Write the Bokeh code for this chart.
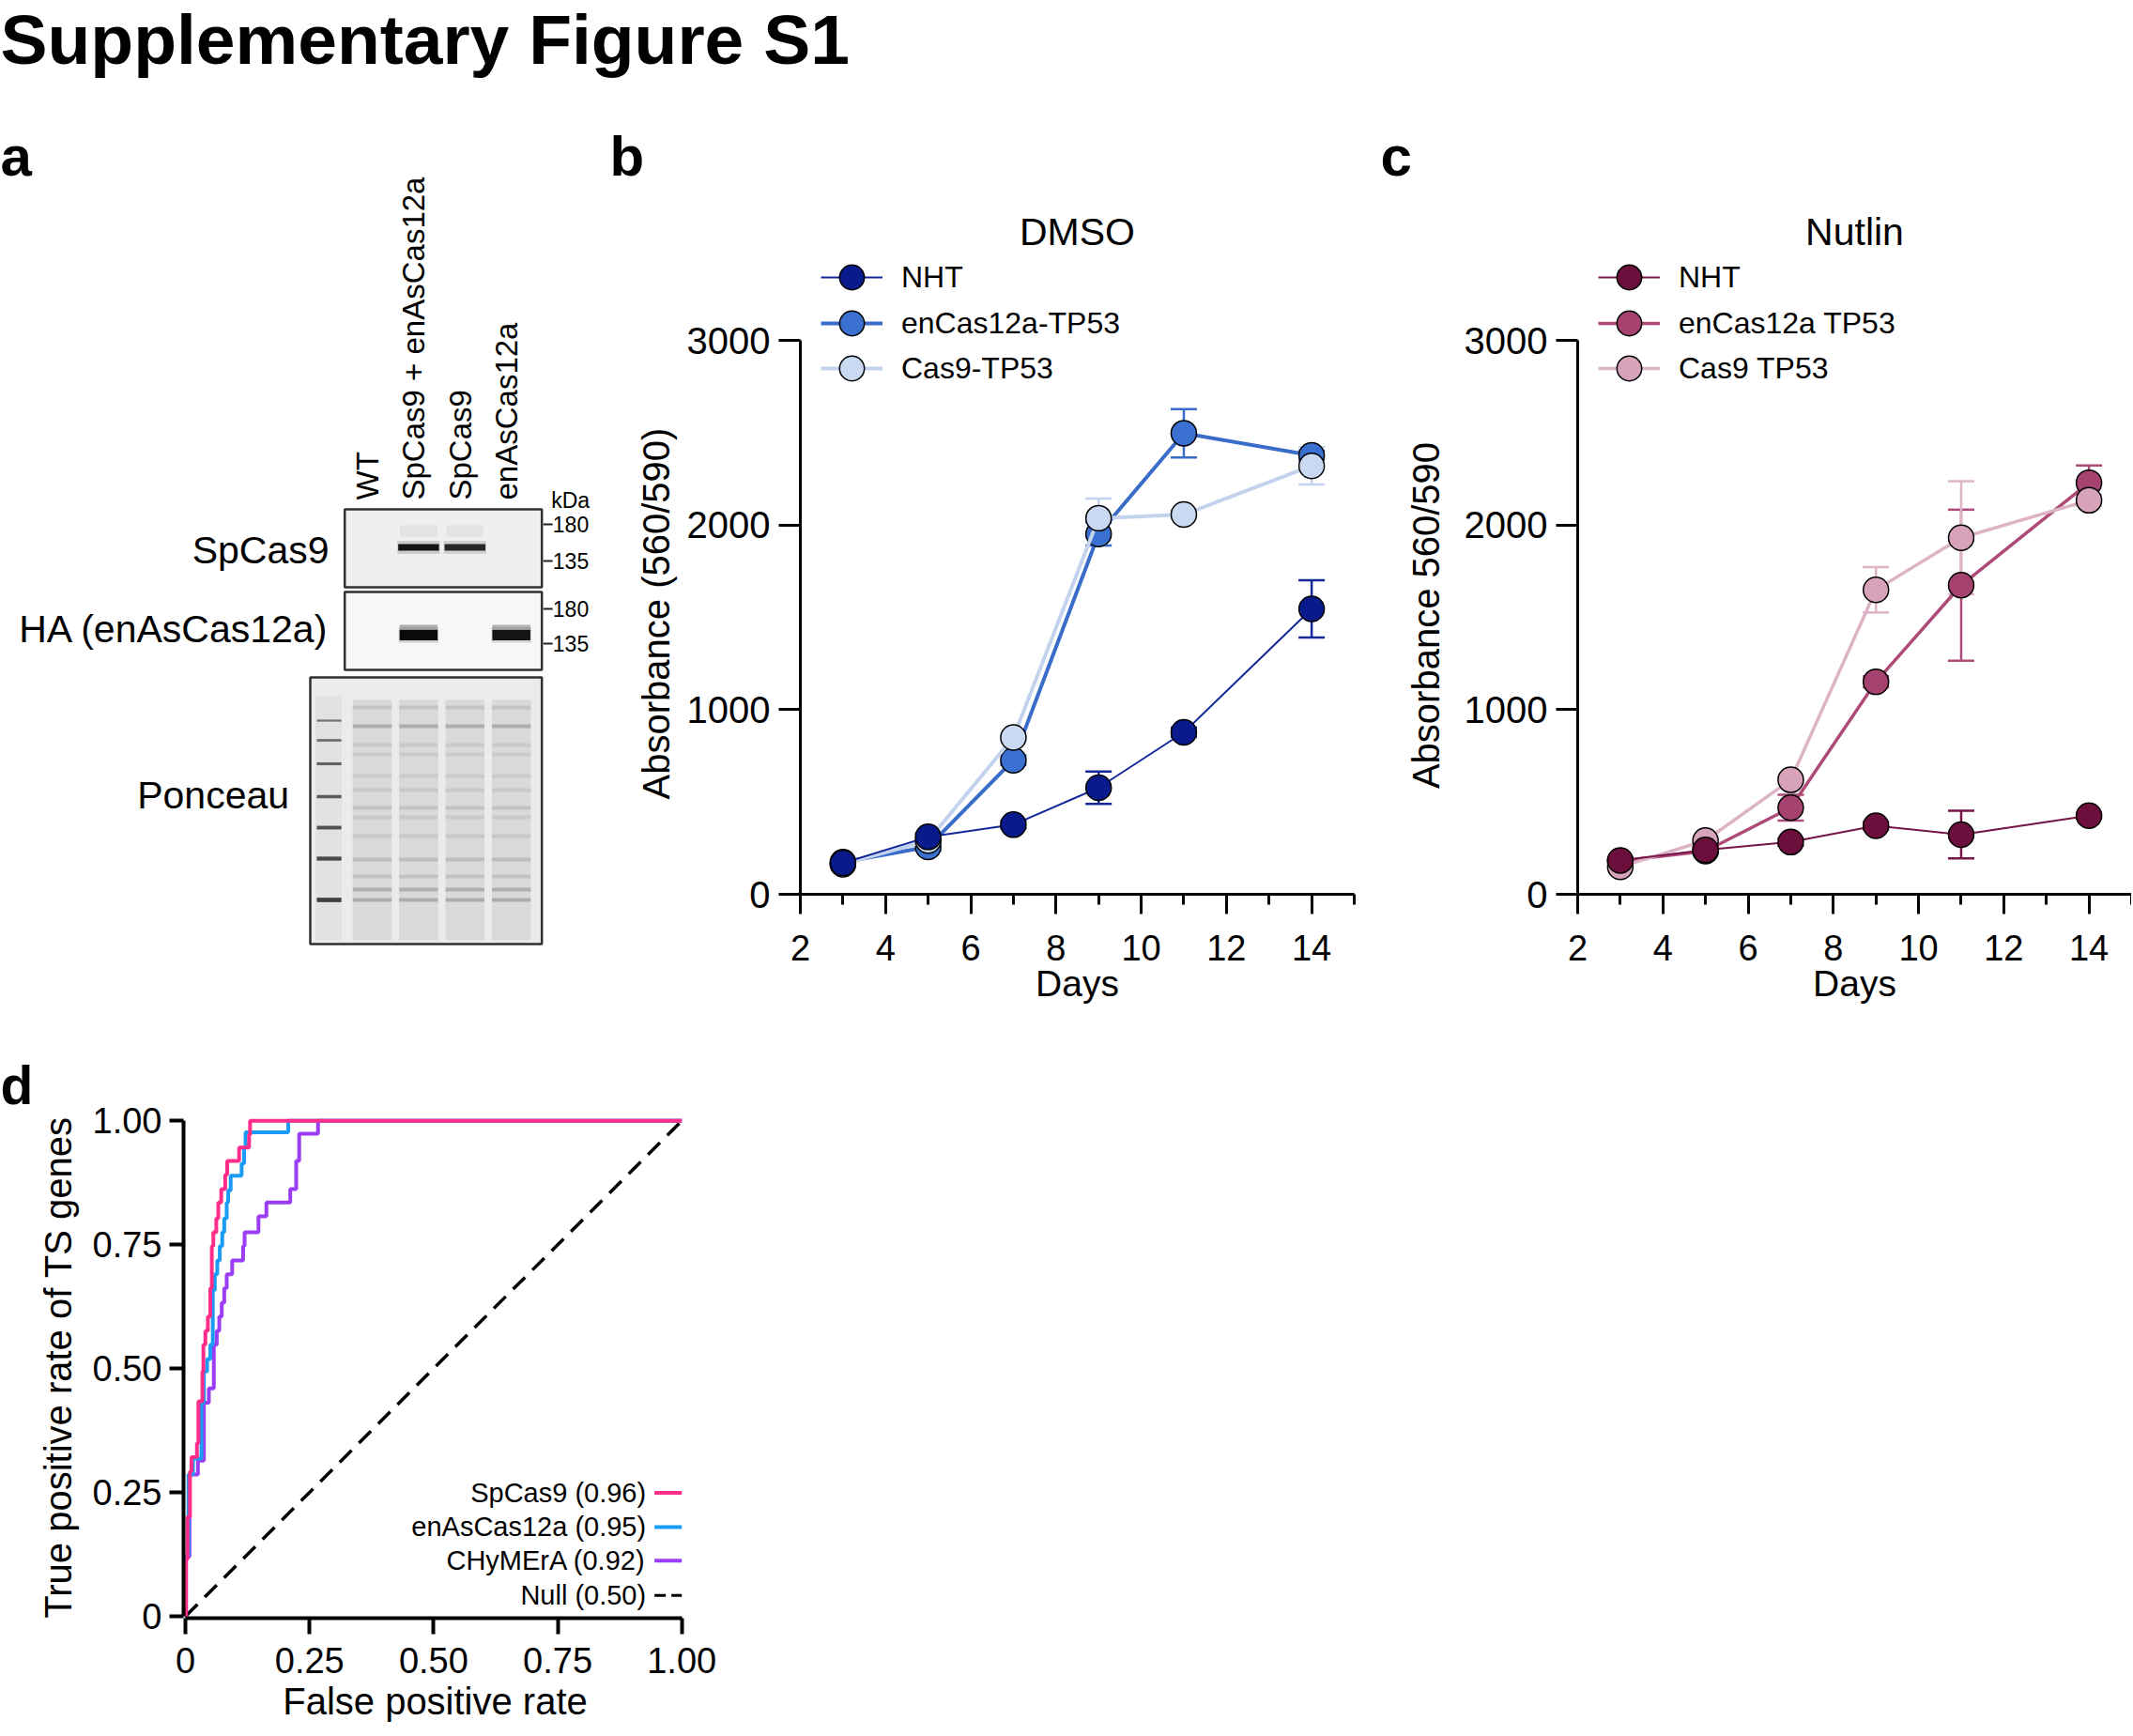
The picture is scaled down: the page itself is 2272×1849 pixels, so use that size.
import math
import numpy as np
from bokeh.plotting import figure
from bokeh.models import (Range1d, Legend, LegendItem, Whisker, TeeHead,
                          ColumnDataSource, FixedTicker)
from bokeh.layouts import column, row
from bokeh.embed import file_html
from bokeh.resources import INLINE
from bokeh.core.properties import value

FONT = "Liberation Sans"

# ---------------- data ----------------
days = [3, 5, 7, 9, 11, 14]
day_ticks = [2, 4, 6, 8, 10, 12, 14]
day_minor = [3, 5, 7, 9, 11, 13, 15]
abs_ticks = [0, 1000, 2000, 3000]

dmso_names = ["NHT", "enCas12a-TP53", "Cas9-TP53"]
dmso_nht = [169, 311, 377, 577, 877, 1546]
dmso_nht_err = [15, 20, 20, 88, 25, 155]
dmso_en = [174, 257, 726, 1951, 2497, 2377]
dmso_en_err = [10, 20, 25, 62, 131, 25]
dmso_cas9 = [163, 291, 849, 2037, 2057, 2320]
dmso_cas9_err = [10, 15, 20, 106, 20, 101]

nut_names = ["NHT", "enCas12a TP53", "Cas9 TP53"]
nut_nht = [183, 240, 283, 371, 323, 426]
nut_nht_err = [10, 15, 20, 20, 129, 15]
nut_en = [180, 234, 469, 1151, 1674, 2229]
nut_en_err = [10, 15, 70, 30, 409, 94]
nut_cas9 = [149, 291, 620, 1649, 1931, 2134]
nut_cas9_err = [10, 15, 20, 123, 306, 30]

roc_names = ["SpCas9 (0.96)", "enAsCas12a (0.95)", "CHyMErA (0.92)", "Null (0.50)"]
sp_fpr = [0, 0.001, 0.004, 0.009, 0.012, 0.023, 0.026, 0.034, 0.036, 0.040, 0.045,
          0.050, 0.053, 0.056, 0.062, 0.066, 0.072, 0.080, 0.084, 0.108, 0.128, 0.130, 1.0]
sp_tpr = [0, 0.115, 0.200, 0.292, 0.321, 0.349, 0.434, 0.494, 0.548, 0.576, 0.605,
          0.662, 0.747, 0.775, 0.803, 0.835, 0.862, 0.891, 0.919, 0.946, 0.971, 1.0, 1.0]
en_fpr = [0, 0.0005, 0.006, 0.015, 0.032, 0.037, 0.0435, 0.050, 0.055, 0.059, 0.064,
          0.069, 0.074, 0.078, 0.083, 0.086, 0.091, 0.113, 0.118, 0.121, 0.207, 1.0]
en_tpr = [0, 0.122, 0.286, 0.318, 0.431, 0.494, 0.519, 0.548, 0.658, 0.690, 0.718,
          0.747, 0.775, 0.803, 0.835, 0.860, 0.889, 0.914, 0.946, 0.977, 1.0, 1.0]
ch_fpr = [0, 0.001, 0.008, 0.025, 0.037, 0.047, 0.057, 0.063, 0.068, 0.073, 0.078,
          0.083, 0.094, 0.116, 0.119, 0.147, 0.163, 0.211, 0.223, 0.229, 0.267, 1.0]
ch_tpr = [0, 0.120, 0.286, 0.314, 0.431, 0.460, 0.548, 0.576, 0.605, 0.633, 0.662,
          0.690, 0.718, 0.747, 0.775, 0.807, 0.835, 0.862, 0.919, 0.974, 1.0, 1.0]
null_fpr = [0, 1]
null_tpr = [0, 1]
rate_ticks = [0, 0.25, 0.5, 0.75, 1.0]
rate_labels = ["0", "0.25", "0.50", "0.75", "1.00"]

blot_lanes = ["WT", "SpCas9 + enAsCas12a", "SpCas9", "enAsCas12a"]
spcas9_signal = [0.0, 1.0, 0.9, 0.0]
ha_signal = [0.0, 1.0, 0.0, 0.95]
ladder_bands = [226, 247, 272, 307, 340, 373, 417]
ladder_signal = [0.6, 0.65, 0.7, 0.75, 0.8, 0.85, 0.9]
ponceau_bands = [212, 232, 252, 262, 285, 300, 319, 329, 349, 374, 392, 406, 417]
ponceau_signal = [0.15, 0.32, 0.10, 0.10, 0.10, 0.12, 0.16, 0.10, 0.12, 0.20, 0.16, 0.30, 0.32]
kda_labels = ["180", "135", "180", "135"]
kda_pos = [17, 56, 107, 144]


def bare_fig(width, height, xr, yr):
    p = figure(width=width, height=height, x_range=xr, y_range=yr,
               output_backend="svg", toolbar_location=None,
               x_axis_type=None, y_axis_type=None, frame_align=False,
               min_border_left=0, min_border_right=0, min_border_top=0, min_border_bottom=0)
    p.outline_line_color = None
    return p


def put_text(p, x, y, txt, size, bold=False, align="left", baseline="middle", angle=0.0):
    p.text(x=[x], y=[y], text=[txt], angle=angle, text_font=value(FONT),
           text_font_size=value(size), text_font_style="bold" if bold else "normal",
           text_align=align, text_baseline=baseline, text_color="black")


# ---------------- header ----------------
ph = bare_fig(2270, 118, Range1d(0, 2270), Range1d(118, 0))
put_text(ph, 0, 41, "Supplementary Figure S1", "75px", bold=True)

# ---------------- panel a (blot) ----------------
pa = bare_fig(638, 980, Range1d(-7.016, 5.899), Range1d(557, -423))
lane_idx = np.arange(1, len(blot_lanes) + 1)
BOX_R = 4.658
pa.quad(left=[0.407, 0.407], right=[BOX_R, BOX_R], top=[1, 89], bottom=[84, 172],
        fill_color=["#efefef", "#f7f7f7"], line_color="#303030", line_width=2.5)
pa.quad(left=[-0.336], right=[BOX_R], top=[180], bottom=[464],
        fill_color="#ebebeb", line_color="#303030", line_width=2.5)
pa.quad(left=lane_idx - 0.42, right=lane_idx + 0.42, top=204, bottom=460,
        fill_color="#cdcdcd", fill_alpha=0.6, line_color=None)
pa.quad(left=[-0.22], right=[0.34], top=[200], bottom=[460],
        fill_color="#d6d6d6", fill_alpha=0.45, line_color=None)
gx, gy = np.meshgrid(lane_idx, ponceau_bands)
ga = np.meshgrid(lane_idx, ponceau_signal)[1]
pa.rect(x=gx.ravel(), y=gy.ravel(), width=0.84, height=4, fill_color="#505050",
        fill_alpha=ga.ravel(), line_color=None)
lad_sig = np.array(ladder_signal)
pa.rect(x=np.full(len(ladder_bands), 0.07), y=ladder_bands, width=0.53,
        height=8 * lad_sig - 2.5, fill_color="#2e2e2e", fill_alpha=lad_sig, line_color=None)
sp_sig = np.array(spcas9_signal)
ha_sig = np.array(ha_signal)
pa.rect(x=lane_idx, y=24, width=0.8, height=12, fill_color="#888888",
        fill_alpha=0.12 * sp_sig, line_color=None)
pa.rect(x=lane_idx, y=41.5, width=0.92, height=14, fill_color="#444444",
        fill_alpha=0.2 * sp_sig, line_color=None)
pa.rect(x=lane_idx, y=41.5, width=0.88, height=7, fill_color="#141414",
        fill_alpha=sp_sig, line_color=None)
pa.rect(x=lane_idx, y=128, width=0.82, height=8, fill_color="#666666",
        fill_alpha=0.5 * ha_sig, line_color=None)
pa.rect(x=lane_idx, y=135, width=0.86, height=16, fill_color="#444444",
        fill_alpha=0.2 * ha_sig, line_color=None)
pa.rect(x=lane_idx, y=135, width=0.82, height=11, fill_color="#0a0a0a",
        fill_alpha=ha_sig, line_color=None)
pa.text(x=[0.07, 0.07, -0.79], y=[44, 128, 305],
        text=["SpCas9", "HA (enAsCas12a)", "Ponceau"],
        text_font=value(FONT), text_font_size=value("41px"),
        text_align="right", text_baseline="middle", text_color="black")
pa.text(x=lane_idx - 0.1, y=-9, text=blot_lanes, angle=math.pi / 2,
        text_font=value(FONT), text_font_size=value("33px"),
        text_align="left", text_baseline="middle", text_color="black")
put_text(pa, 4.86, -9, "kDa", "23px")
pa.segment(x0=4.69, x1=4.89, y0=kda_pos, y1=kda_pos, line_color="#202020", line_width=2)
pa.text(x=4.893, y=kda_pos, text=kda_labels, text_font=value(FONT),
        text_font_size=value("23px"), text_align="left", text_baseline="middle",
        text_color="black")
put_text(pa, -7.016, -375, "a", "60px", bold=True)

# ---------------- label strips for b, c ----------------
sb = bare_fig(90, 980, Range1d(638, 728), Range1d(1098, 118))
put_text(sb, 649, 166, "b", "60px", bold=True)
put_text(sb, 698, 653, "Absorbance (560/590)", "40px", align="center", angle=math.pi / 2)

sc_ = bare_fig(88, 980, Range1d(1468, 1556), Range1d(1098, 118))
put_text(sc_, 1470, 166, "c", "60px", bold=True)
put_text(sc_, 1518, 655, "Absorbance 560/590", "40px", align="center", angle=math.pi / 2)

# ---------------- panels b, c (growth) ----------------
Y_TOP = 3000 + 92 * 3000 / 590.0
LEG_BOTTOMS = [623, 574, 526]


def growth_panel(width, bl, br, title, names, means, errs, mcolors, lcolors, lwidths):
    p = figure(width=width, height=980, output_backend="svg", toolbar_location=None,
               x_range=Range1d(2, 15), y_range=Range1d(0, Y_TOP), frame_align=False,
               min_border_left=bl, min_border_right=br, min_border_top=152,
               min_border_bottom=146)
    p.grid.visible = False
    p.outline_line_color = None
    p.title.text = title
    p.title.align = "center"
    p.title.text_font = FONT
    p.title.text_font_size = "41px"
    p.title.text_font_style = "normal"
    p.title.text_color = "black"
    p.title.standoff = 1
    for m, e, c in zip(means, errs, lcolors):
        src = ColumnDataSource(dict(x=days, upper=[a + b for a, b in zip(m, e)],
                                    lower=[a - b for a, b in zip(m, e)]))
        p.add_layout(Whisker(source=src, base="x", upper="upper", lower="lower",
                             line_color=c, line_width=2.5,
                             upper_head=TeeHead(size=28, line_color=c, line_width=2.5),
                             lower_head=TeeHead(size=28, line_color=c, line_width=2.5)))
    items = {}
    for i in [1, 2, 0]:
        ln = p.line(days, means[i], line_color=lcolors[i], line_width=lwidths[i])
        sc = p.scatter(days, means[i], size=27, fill_color=mcolors[i],
                       line_color="black", line_width=1.5)
        items[i] = LegendItem(label=names[i], renderers=[ln, sc])
    for i in range(3):
        p.add_layout(Legend(items=[items[i]], location=(22, LEG_BOTTOMS[i]),
                            glyph_width=66, glyph_height=68, label_height=68, spacing=0,
                            padding=0, margin=0, border_line_color=None,
                            background_fill_alpha=0, label_standoff=20,
                            label_text_font=FONT, label_text_font_size="32px",
                            label_text_color="black"))

    xa = p.xaxis[0]
    xa.ticker = FixedTicker(ticks=day_ticks, minor_ticks=day_minor)
    xa.bounds = (2, 15)
    ya = p.yaxis[0]
    ya.ticker = FixedTicker(ticks=abs_ticks, minor_ticks=[])
    ya.bounds = (0, 3000)
    for ax in (xa, ya):
        ax.axis_line_width = 3
        ax.major_tick_line_width = 3
        ax.minor_tick_line_width = 3
        ax.major_tick_in = 0
        ax.minor_tick_in = 0
        ax.axis_line_color = "black"
        ax.major_tick_line_color = "black"
        ax.minor_tick_line_color = "black"
        ax.major_label_text_font = FONT
        ax.major_label_text_color = "black"
    xa.major_tick_out = 21
    xa.minor_tick_out = 11
    xa.major_label_text_font_size = "38px"
    xa.major_label_standoff = 22
    xa.axis_label = "Days"
    xa.axis_label_text_font = FONT
    xa.axis_label_text_font_size = "39px"
    xa.axis_label_text_font_style = "normal"
    xa.axis_label_text_color = "black"
    xa.axis_label_standoff = 0
    ya.major_tick_out = 23
    ya.minor_tick_out = 0
    ya.major_label_text_font_size = "40px"
    ya.major_label_standoff = 9
    return p


pb = growth_panel(740, 124, 26, "DMSO", dmso_names,
                  [dmso_nht, dmso_en, dmso_cas9],
                  [dmso_nht_err, dmso_en_err, dmso_cas9_err],
                  ["#081a8c", "#3a70d0", "#c9d9f1"],
                  ["#14289a", "#3a6cc9", "#c3d3ee"], [2, 4, 4])

pc = growth_panel(714, 124, 0, "Nutlin", nut_names,
                  [nut_nht, nut_en, nut_cas9],
                  [nut_nht_err, nut_en_err, nut_cas9_err],
                  ["#6c0f3d", "#a6426f", "#d6a3ba"],
                  ["#761547", "#ad4a78", "#ddb3c6"], [2, 3.5, 3.5])

# ---------------- panel d (ROC) ----------------
sd = bare_fig(86, 749, Range1d(0, 86), Range1d(1847, 1098))
put_text(sd, 0, 1155, "d", "57px", bold=True)
put_text(sd, 61, 1456, "True positive rate of TS genes", "40px", align="center",
         angle=math.pi / 2)

pd_ = figure(width=800, height=749, output_backend="svg", toolbar_location=None,
             x_range=Range1d(-0.004, 1.01), y_range=Range1d(-0.004, 1.01),
             frame_align=False,
             min_border_left=109, min_border_right=155, min_border_top=90,
             min_border_bottom=124)
pd_.grid.visible = False
pd_.outline_line_color = None
roc_colors = ["#ff2d8a", "#1a9bf5", "#9a3df5", "black"]
pd_.line(null_fpr, null_tpr, line_color="black", line_width=3.5, line_dash="18 11")
pd_.step(ch_fpr, ch_tpr, mode="after", line_color=roc_colors[2], line_width=4)
pd_.step(en_fpr, en_tpr, mode="after", line_color=roc_colors[1], line_width=4)
pd_.step(sp_fpr, sp_tpr, mode="after", line_color=roc_colors[0], line_width=4)

leg_y = [0.249, 0.180, 0.112, 0.042]
pd_.text(x=[0.928] * 4, y=leg_y, text=roc_names, text_font=value(FONT),
         text_font_size=value("29px"), text_align="right", text_baseline="middle",
         text_color="black")
pd_.segment(x0=[0.945] * 3, x1=[1.0] * 3, y0=leg_y[:3], y1=leg_y[:3],
            line_color=roc_colors[:3], line_width=4)
pd_.segment(x0=[0.945], x1=[1.0], y0=leg_y[3:], y1=leg_y[3:], line_color="black",
            line_width=3, line_dash="12 6")

for ax, tout in ((pd_.xaxis[0], 17), (pd_.yaxis[0], 15)):
    ax.ticker = FixedTicker(ticks=rate_ticks, minor_ticks=[])
    ax.major_label_overrides = {t: s for t, s in zip(rate_ticks, rate_labels)}
    ax.bounds = (0, 1)
    ax.axis_line_width = 4
    ax.major_tick_line_width = 4
    ax.axis_line_color = "black"
    ax.major_tick_line_color = "black"
    ax.major_tick_out = tout
    ax.major_tick_in = 0
    ax.minor_tick_out = 0
    ax.minor_tick_in = 0
    ax.major_label_text_font = FONT
    ax.major_label_text_font_size = "38px"
    ax.major_label_text_color = "black"
    ax.axis_label_text_font = FONT
    ax.axis_label_text_font_size = "40px"
    ax.axis_label_text_font_style = "normal"
    ax.axis_label_text_color = "black"
pd_.xaxis[0].axis_label = "False positive rate"
pd_.xaxis[0].major_label_standoff = 14
pd_.xaxis[0].axis_label_standoff = 5
pd_.yaxis[0].major_label_standoff = 8

layout = column(row(ph), row(pa, sb, pb, sc_, pc), row(sd, pd_))
open("out.html", "w").write(file_html(layout, INLINE))
